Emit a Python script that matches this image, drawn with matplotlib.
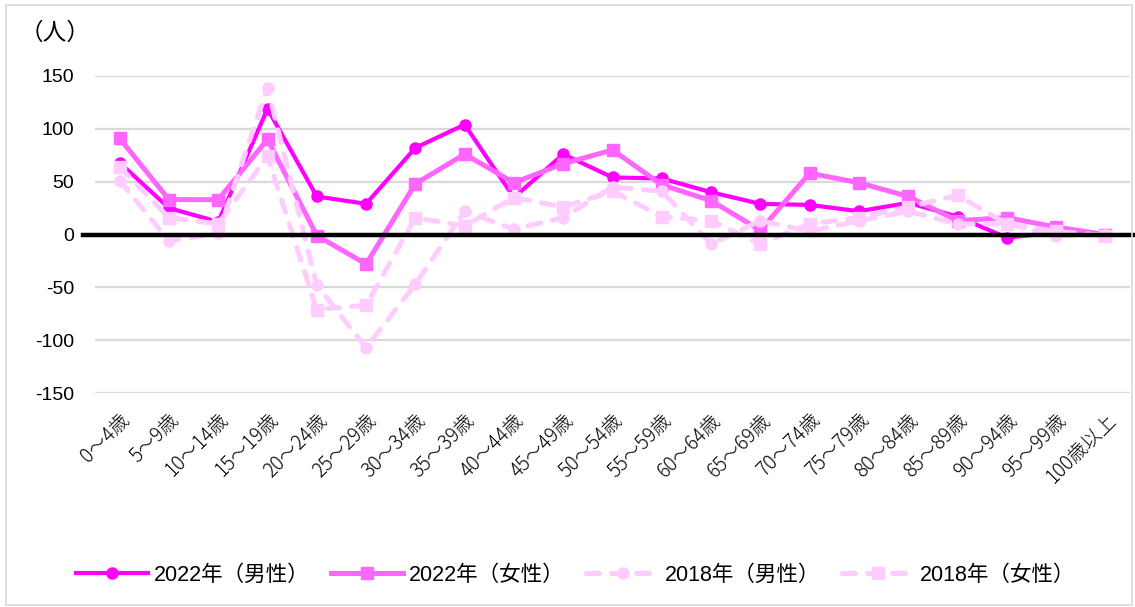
import matplotlib.pyplot as plt
from matplotlib.patches import Rectangle
import numpy as np

plt.rcParams["font.family"] = ["Liberation Sans", "Noto Sans CJK JP", "DejaVu Sans"]

AGE_GROUPS = [
    "0～4歳", "5～9歳", "10～14歳", "15～19歳", "20～24歳", "25～29歳",
    "30～34歳", "35～39歳", "40～44歳", "45～49歳", "50～54歳", "55～59歳",
    "60～64歳", "65～69歳", "70～74歳", "75～79歳", "80～84歳", "85～89歳",
    "90～94歳", "95～99歳", "100歳以上",
]

MALE_2022 = [68, 25, 12, 119, 36, 29, 82, 104, 35, 76, 54, 53,
             40, 29, 28, 22, 30, 17, -3, 2, 0]
FEMALE_2022 = [91, 33, 33, 90, -1, -28, 48, 76, 49, 67, 80, 47,
               32, 4, 58, 49, 36, 13, 16, 7, 0]
MALE_2018 = [51, -6, 1, 139, -48, -107, -47, 22, 5, 16, 45, 41,
             -9, 13, 3, 13, 22, 10, 10, -1, 0]
FEMALE_2018 = [64, 16, 10, 74, -71, -67, 16, 8, 35, 26, 41, 17,
               13, -9, 10, 16, 26, 37, 10, 3, -1]

SERIES = [
    ("2022年（男性）", MALE_2022, "#FF00FF", "o", "-", 3.0),
    ("2022年（女性）", FEMALE_2022, "#FF66FF", "s", "-", 3.6),
    ("2018年（男性）", MALE_2018, "#FFCCFF", "o", "--", 3.6),
    ("2018年（女性）", FEMALE_2018, "#FFCCFF", "s", "--", 3.6),
]

fig = plt.figure(figsize=(11.35, 6.07), dpi=100)
ax = fig.add_axes([95 / 1135, 1 - 393 / 607, 1035 / 1135, 317 / 607])

x = np.arange(len(AGE_GROUPS))
for i, (label, vals, color, marker, ls, lw) in enumerate(SERIES):
    line, = ax.plot(
        x, vals,
        label=label,
        color=color,
        marker=marker,
        markersize=8,
        linestyle=ls,
        linewidth=lw,
        zorder=3 + i,
    )
    if ls == "--":
        line.set_dashes((2.6, 2.4))
        line.set_dash_capstyle("round")

# thick zero line, sticking out a bit to the left like the original
ax.axhline(0, xmin=-0.012, xmax=1.01, color="black", linewidth=3.2,
           zorder=10, clip_on=False)

ax.set_xlim(-0.5, len(AGE_GROUPS) - 0.5)
ax.set_ylim(-150, 150)
ax.set_yticks(np.arange(-150, 151, 50))
ax.set_yticklabels([str(v) for v in range(-150, 151, 50)], fontsize=14)
ax.set_xticks(x)
ax.set_xticklabels(AGE_GROUPS, fontsize=14, rotation=45, ha="right",
                   va="top", rotation_mode="anchor", fontweight="light",
                   family=["Noto Sans CJK JP", "DejaVu Sans"])
ax.tick_params(axis="both", length=0)
ax.tick_params(axis="x", pad=12)
ax.tick_params(axis="y", pad=15)
ax.grid(axis="y", color="#D9D9D9", linewidth=1.6)
ax.set_axisbelow(True)
for side in ["top", "right", "bottom", "left"]:
    ax.spines[side].set_visible(False)

fig.text(20 / 1135, 1 - 33 / 607, "（人）", fontsize=17, va="center", ha="left")

handles, labels = ax.get_legend_handles_labels()
fig.legend(
    handles, labels,
    loc="center",
    bbox_to_anchor=(0.507, 1 - 575 / 607),
    ncol=4,
    frameon=False,
    fontsize=15.5,
    handlelength=3.35,
    handletextpad=0.28,
    columnspacing=1.0,
)

# light grey frame around the whole chart
fig.patches.append(Rectangle((6 / 1135, 2 / 607), 1126 / 1135, 600 / 607,
                             transform=fig.transFigure, fill=False,
                             edgecolor="#D9D9D9", linewidth=1.2))

plt.savefig("out.png", dpi=100)
plt.close()
